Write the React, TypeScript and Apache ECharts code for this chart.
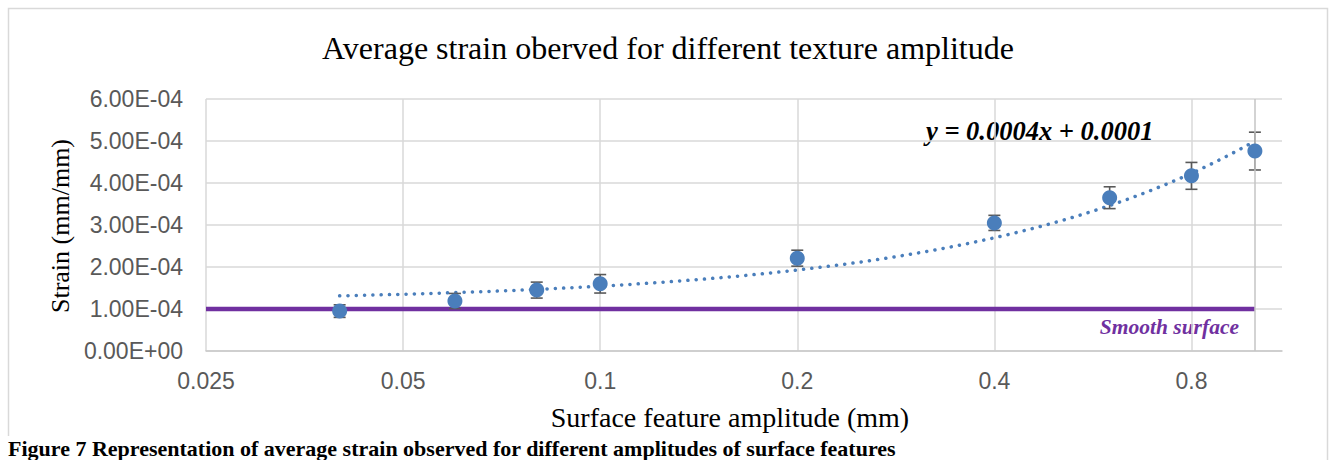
import React, { useEffect, useRef } from "react";
import * as echarts from "echarts";

// ---- data ----
const amplitudes = [0.04, 0.06, 0.08, 0.1, 0.2, 0.4, 0.6, 0.8, 1.0]; // mm
const strains = [0.95e-4, 1.19e-4, 1.45e-4, 1.6e-4, 2.21e-4, 3.05e-4, 3.65e-4, 4.17e-4, 4.76e-4];
const strainErrors = [0.15e-4, 0.18e-4, 0.19e-4, 0.22e-4, 0.19e-4, 0.18e-4, 0.26e-4, 0.32e-4, 0.45e-4];
const smoothSurfaceStrain = 1.0e-4;
const smoothSurfaceRange = [0.025, 1.0];
const xAxisMin = 0.025; // log2 axis, ticks 0.025, 0.05, 0.1, 0.2, 0.4, 0.8
const xAxisMax = 1.1;
const yAxisMin = 0;
const yAxisMax = 6e-4;
const yAxisStep = 1e-4;

const titleText = "Average strain oberved for different texture amplitude";
const xAxisTitle = "Surface feature amplitude (mm)";
const yAxisTitle = "Strain (mm/mm)";
const equationText = "y = 0.0004x + 0.0001";
const smoothLabel = "Smooth surface";
const captionText =
  "Figure 7 Representation of average strain observed for different amplitudes of surface features";

// log2 position relative to axis minimum
const pos = (x: number) => Math.log2(x / xAxisMin);

// least-squares linear trendline (as Excel's linear trendline) from the data
const n = amplitudes.length;
const mx = amplitudes.reduce((a, b) => a + b, 0) / n;
const my = strains.reduce((a, b) => a + b, 0) / n;
let sxx = 0;
let sxy = 0;
for (let i = 0; i < n; i++) {
  sxx += (amplitudes[i] - mx) ** 2;
  sxy += (amplitudes[i] - mx) * (strains[i] - my);
}
const slope = sxy / sxx;
const intercept = my - slope * mx;

const fmtE = (v: number) => {
  if (Math.abs(v) < 1e-12) return "0.00E+00";
  const e = Math.floor(Math.log10(Math.abs(v)) + 1e-9);
  const m = v / Math.pow(10, e);
  return m.toFixed(2) + "E" + (e < 0 ? "-" : "+") + String(Math.abs(e)).padStart(2, "0");
};

export default function App() {
  const ref = useRef<HTMLDivElement>(null);
  useEffect(() => {
    if (!ref.current) return;
    const chart = echarts.init(ref.current, undefined, { renderer: "svg" });

    const pStart = pos(amplitudes[0]);
    const pEnd = pos(amplitudes[n - 1]);
    const trend: number[][] = [];
    const steps = 120;
    for (let k = 0; k <= steps; k++) {
      const p = pStart + ((pEnd - pStart) * k) / steps;
      const x = xAxisMin * Math.pow(2, p);
      trend.push([p, intercept + slope * x]);
    }

    const scatterData = amplitudes.map((a, i) => [pos(a), strains[i]]);
    const errData = amplitudes.map((a, i) => [pos(a), strains[i], strainErrors[i]]);

    const serif = "'Liberation Serif', 'Times New Roman', serif";
    const sans = "'Liberation Sans', Arial, sans-serif";

    chart.setOption({
      animation: false,
      backgroundColor: "#ffffff",
      grid: { left: 206, top: 99, width: 1076, height: 252, containLabel: false },
      xAxis: {
        type: "value",
        min: 0,
        max: pos(xAxisMax),
        interval: 1,
        axisLine: { show: true, lineStyle: { color: "#c9c9c9", width: 1.5 } },
        axisTick: { show: false },
        axisLabel: {
          color: "#595959",
          fontFamily: sans,
          fontSize: 23,
          margin: 18,
          showMaxLabel: false,
          formatter: (v: number) =>
            Math.abs(v - Math.round(v)) < 1e-6
              ? String(Number((xAxisMin * Math.pow(2, v)).toPrecision(3)))
              : "",
        },
        splitLine: {
          show: true,
          showMaxLine: false,
          lineStyle: { color: "#d9d9d9", width: 1.5 },
        },
      },
      yAxis: {
        type: "value",
        min: yAxisMin,
        max: yAxisMax,
        interval: yAxisStep,
        axisLine: { show: false },
        axisTick: { show: false },
        axisLabel: {
          color: "#595959",
          fontFamily: sans,
          fontSize: 23,
          margin: 23,
          formatter: (v: number) => fmtE(v),
        },
        splitLine: { show: true, lineStyle: { color: "#d9d9d9", width: 1.5 } },
      },
      series: [
        {
          type: "line",
          name: "Smooth surface",
          data: smoothSurfaceRange.map((a) => [pos(a), smoothSurfaceStrain]),
          symbol: "none",
          lineStyle: { color: "#7030a0", width: 4.5 },
          z: 2,
          markLine: {
            silent: true,
            symbol: "none",
            label: { show: false },
            lineStyle: { color: "#c4c4c4", width: 1.5, type: "solid" },
            data: [{ xAxis: pos(amplitudes[n - 1]) }],
          },
        },
        {
          type: "line",
          name: "Trend",
          data: trend,
          symbol: "none",
          smooth: false,
          lineStyle: {
            color: "#4a7ebb",
            width: 3.5,
            type: [0.1, 8.2],
            cap: "round",
          },
          z: 3,
        },
        {
          type: "custom",
          name: "Error",
          data: errData,
          encode: { x: 0, y: 1 },
          z: 4,
          renderItem: (params: any, api: any) => {
            const x = api.value(0);
            const y = api.value(1);
            const e = api.value(2);
            const t = api.coord([x, y + e]);
            const b = api.coord([x, y - e]);
            const hw = 6;
            const st = { stroke: "#595959", lineWidth: 1.6 };
            return {
              type: "group",
              children: [
                { type: "line", shape: { x1: t[0], y1: t[1], x2: b[0], y2: b[1] }, style: st },
                { type: "line", shape: { x1: t[0] - hw, y1: t[1], x2: t[0] + hw, y2: t[1] }, style: st },
                { type: "line", shape: { x1: b[0] - hw, y1: b[1], x2: b[0] + hw, y2: b[1] }, style: st },
              ],
            };
          },
        },
        {
          type: "scatter",
          name: "Average strain",
          data: scatterData,
          symbol: "circle",
          symbolSize: 15,
          itemStyle: { color: "#4a7ebb", opacity: 1 },
          z: 5,
        },
      ],
      graphic: [
        {
          type: "polyline",
          silent: true,
          shape: { points: [[8.5, 436], [8.5, 8.5], [1327.5, 8.5], [1327.5, 460]] },
          style: { stroke: "#d9d9d9", lineWidth: 1.5, fill: "none" },
        },
        {
          type: "text",
          x: 668,
          y: 48,
          style: {
            text: titleText,
            font: `32px ${serif}`,
            fill: "#000000",
            textAlign: "center",
            textVerticalAlign: "middle",
          },
        },
        {
          type: "text",
          x: 730,
          y: 417,
          style: {
            text: xAxisTitle,
            font: `28px ${serif}`,
            fill: "#000000",
            textAlign: "center",
            textVerticalAlign: "middle",
          },
        },
        {
          type: "text",
          x: 60,
          y: 226,
          rotation: Math.PI / 2,
          style: {
            text: yAxisTitle,
            font: `26px ${serif}`,
            fill: "#000000",
            textAlign: "center",
            textVerticalAlign: "middle",
          },
        },
        {
          type: "text",
          x: 926,
          y: 131,
          style: {
            text: equationText,
            font: `italic bold 26.5px ${serif}`,
            fill: "#000000",
            textAlign: "left",
            textVerticalAlign: "middle",
          },
        },
        {
          type: "text",
          x: 1239,
          y: 327,
          style: {
            text: smoothLabel,
            font: `italic bold 21.5px ${serif}`,
            fill: "#7030a0",
            textAlign: "right",
            textVerticalAlign: "middle",
          },
        },
        {
          type: "text",
          x: 8,
          y: 459,
          style: {
            text: captionText,
            font: `bold 22px ${serif}`,
            fill: "#000000",
            textAlign: "left",
            textVerticalAlign: "bottom",
          },
        },
      ],
    });
    return () => chart.dispose();
  }, []);
  return (
    <div
      ref={ref}
      style={{ position: "fixed", left: 0, top: 0, width: 1330, height: 460, background: "#fff" }}
    />
  );
}
